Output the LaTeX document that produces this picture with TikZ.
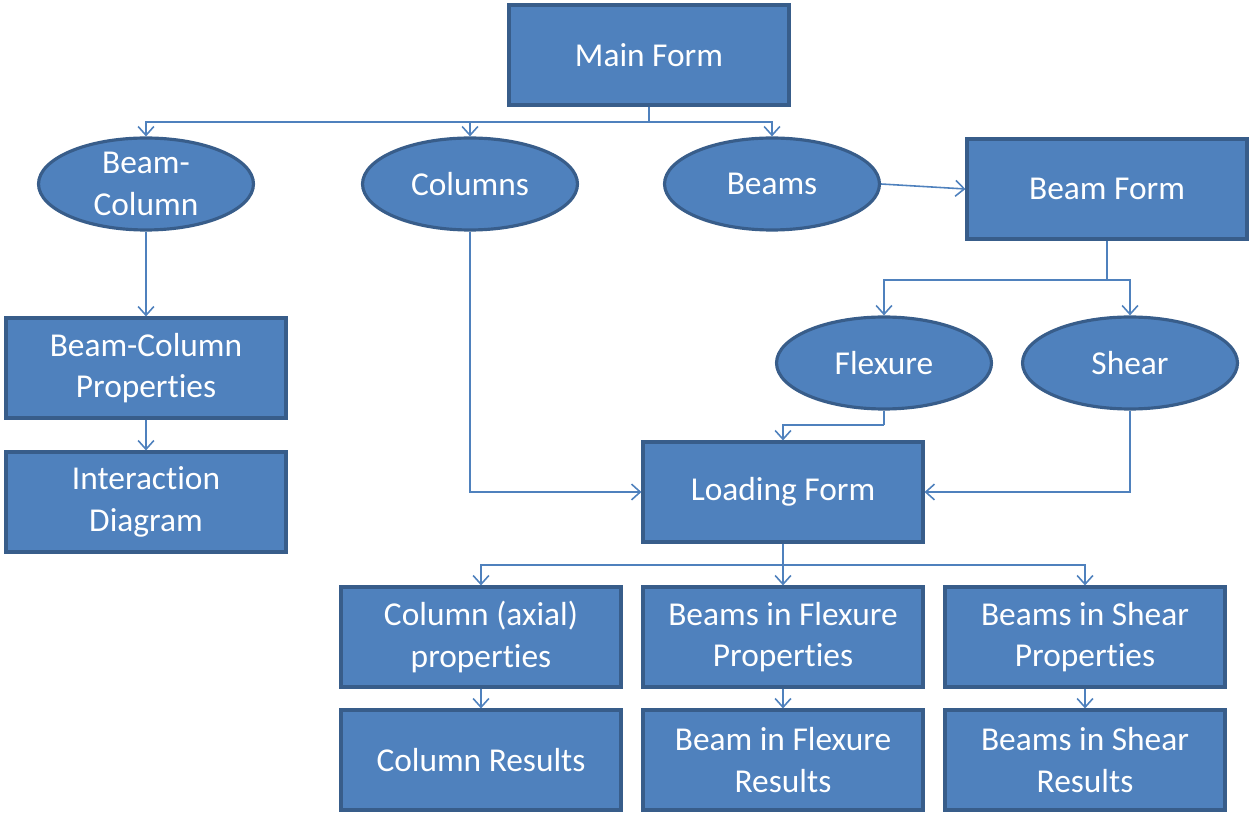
\documentclass[tikz,border=0pt]{standalone}
\usepackage{fontspec}
\setmainfont{Carlito}[Ligatures=NoCommon]
\usetikzlibrary{shapes.geometric,arrows.meta}
\definecolor{boxfill}{HTML}{4F81BD}
\definecolor{boxline}{HTML}{385D8A}
\begin{document}
\begin{tikzpicture}[x=0.02cm,y=-0.02cm,
  form/.style={draw=boxline, fill=boxfill, line width=1.8pt, rectangle, inner sep=0pt,
    minimum width=5.6cm, minimum height=2cm, text=white, align=center, font=\fontsize{19}{23.5}\selectfont},
  kind/.style={draw=boxline, fill=boxfill, line width=1.8pt, ellipse, inner sep=0pt,
    minimum width=4.3cm, minimum height=1.84cm, text=white, align=center, font=\fontsize{19}{23.5}\selectfont},
  link/.style={draw=boxfill, line width=0.9pt},
  arr/.style={link, -{Straight Barb[length=5pt,width=9pt]}}]
\useasboundingbox (0,0) rectangle (1250,813);
\begin{scope}
\node[form] (main) at (649,55) {Main Form};
\node[kind] (bc) at (146,184) {Beam-\\Column};
\node[kind] (col) at (470,184) {Columns};
\node[kind] (beams) at (772,184) {Beams};
\node[form] (bform) at (1107,189) {Beam Form};
\node[form] (bcp) at (146,368) {Beam-Column\\Properties};
\node[form] (idg) at (146,502) {Interaction\\Diagram};
\node[kind] (flex) at (884,363) {Flexure};
\node[kind] (shear) at (1130,363) {Shear};
\node[form] (load) at (783,492) {Loading Form};
\node[form] (colp) at (481,637) {Column (axial)\\properties};
\node[form] (flexp) at (783,637) {Beams in Flexure\\Properties};
\node[form] (shearp) at (1085,637) {Beams in Shear\\Properties};
\node[form] (colr) at (481,760) {Column Results};
\node[form] (flexr) at (783,760) {Beam in Flexure\\Results};
\node[form] (shearr) at (1085,760) {Beams in Shear\\Results};
\end{scope}
% main form to the three kinds
\path[link] (main.south) -- (649,122) coordinate (m1);
\path[arr] (m1) -| (bc.north);
\path[arr] (m1) -| (col.north);
\path[arr] (m1) -| (beams.north);
\path[arr] (beams.east) -- (bform.west);
% beam form to flexure and shear
\path[link] (bform.south) -- (1107,280) coordinate (b1);
\path[arr] (b1) -| (flex.north);
\path[arr] (b1) -| (shear.north);
% beam-column chain
\path[arr] (bc.south) -- (bcp.north);
\path[arr] (bcp.south) -- (idg.north);
% into loading form
\path[arr] (col.south) |- (load.west);
\path[arr] (shear.south) |- (load.east);
\path[link] (flex.south) -- (884,425) coordinate (f1);
\path[arr] (f1) -| (load.north);
% loading form to properties
\path[link] (load.south) -- (783,565) coordinate (l1);
\path[arr] (l1) -| (colp.north);
\path[arr] (l1) -- (flexp.north);
\path[arr] (l1) -| (shearp.north);
% properties to results
\path[arr] (colp.south) -- (colr.north);
\path[arr] (flexp.south) -- (flexr.north);
\path[arr] (shearp.south) -- (shearr.north);
\end{tikzpicture}
\end{document}
